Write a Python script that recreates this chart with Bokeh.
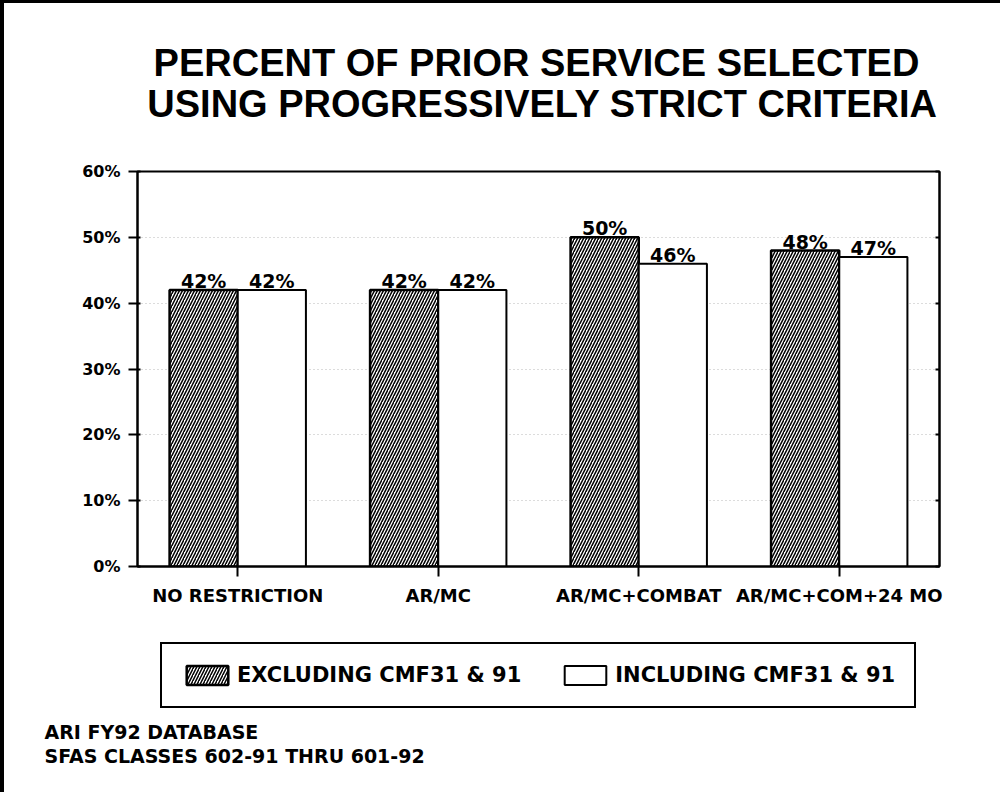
from bokeh.plotting import figure
from bokeh.layouts import column, row
from bokeh.models import (FactorRange, Range1d, Label, Legend, LegendItem, LinearAxis,
                          FixedTicker, PrintfTickFormatter, ColumnDataSource, Title)
from bokeh.transform import dodge
from bokeh.core.properties import value
from bokeh.embed import file_html
from bokeh.resources import INLINE

# ---- data ----
categories = ["NO RESTRICTION", "AR/MC", "AR/MC+COMBAT", "AR/MC+COM+24 MO"]
excluding = [42, 42, 50, 48]
including = [42, 42, 46, 47]
y_ticks = [0, 10, 20, 30, 40, 50, 60]
series_names = ["EXCLUDING CMF31 & 91", "INCLUDING CMF31 & 91"]
title_lines = ["PERCENT OF PRIOR SERVICE SELECTED", "USING PROGRESSIVELY STRICT CRITERIA"]
notes = ["ARI FY92 DATABASE", "SFAS CLASSES 602-91 THRU 601-92"]

src = ColumnDataSource(dict(
    cat=categories,
    exc=excluding,
    inc=including,
    exc_lbl=[f"{v}%" for v in excluding],
    inc_lbl=[f"{v}%" for v in including],
))

FONT = "DejaVu Sans"
W = 996
LINE_H, TOP_H, MAIN_H, BOT_H = 3, 153, 460, 150
BL, BR = 133, 61   # borders left/right shared by all stacked figures

exc_style = dict(fill_color="white", line_color="black", line_width=2.5,
                 hatch_pattern="/", hatch_color="black", hatch_scale=6, hatch_weight=1.5)
inc_style = dict(fill_color="white", line_color="black", line_width=2)


def blank(width, height, **kw):
    f = figure(width=width, height=height, output_backend="svg", toolbar_location=None,
               x_axis_type=None, y_axis_type=None, **kw)
    f.outline_line_color = None
    f.background_fill_color = "white"
    f.border_fill_color = "white"
    return f


# ---------- page frame lines (scan border) ----------
topline = blank(W, LINE_H, x_range=Range1d(0, 1), y_range=Range1d(0, 1),
                min_border_left=BL, min_border_right=BR, min_border_top=0, min_border_bottom=0,
                styles={"background-color": "black"})
topline.background_fill_color = "black"
topline.border_fill_color = "black"

strip = blank(4, 792, x_range=Range1d(0, 1), y_range=Range1d(0, 1), min_border=0,
              styles={"background-color": "black"})
strip.background_fill_color = "black"
strip.border_fill_color = "black"

# ---------- title ----------
top = blank(W, TOP_H, x_range=Range1d(137, 939), y_range=Range1d(156, 3),
            min_border_left=BL, min_border_right=BR, min_border_top=0, min_border_bottom=0)
for txt, x, y in ((title_lines[0], 536, 62), (title_lines[1], 542, 103)):
    top.add_layout(Label(x=x, y=y, text=txt, text_align="center", text_baseline="alphabetic",
                         text_font="Liberation Sans", text_font_style="bold",
                         text_font_size="38px", text_color="black"))

# ---------- main chart ----------
p = figure(width=W, height=MAIN_H,
           x_range=FactorRange(factors=categories, range_padding=0),
           y_range=Range1d(0, 60),
           output_backend="svg", toolbar_location=None,
           min_border_left=BL, min_border_right=BR,
           min_border_top=15, min_border_bottom=50)
p.background_fill_color = "white"
p.border_fill_color = "white"
p.outline_line_color = "black"
p.outline_line_width = 2

p.vbar(x=dodge("cat", -0.17, range=p.x_range), top="exc", width=0.34, bottom=0,
       source=src, **exc_style)
p.vbar(x=dodge("cat", 0.17, range=p.x_range), top="inc", width=0.34, bottom=0,
       source=src, **inc_style)

for col, lbl, off in (("exc", "exc_lbl", -0.17), ("inc", "inc_lbl", 0.17)):
    p.text(x=dodge("cat", off, range=p.x_range), y=col, text=lbl, source=src,
           text_align="center", text_baseline="alphabetic", y_offset=-9,
           text_font=value(FONT), text_font_style="bold", text_font_size="19px",
           text_color="black")

p.yaxis.ticker = FixedTicker(ticks=y_ticks)
p.yaxis.formatter = PrintfTickFormatter(format="%d%%")
p.yaxis.axis_line_width = 2
p.yaxis.major_tick_line_width = 2
p.yaxis.major_tick_out = 9
p.yaxis.major_tick_in = 3
p.yaxis.minor_tick_line_color = None
p.yaxis.major_label_standoff = 8
p.yaxis.major_label_text_font = FONT
p.yaxis.major_label_text_font_style = "bold"
p.yaxis.major_label_text_font_size = "16px"
p.yaxis.major_label_text_color = "black"

p.xaxis.axis_line_width = 2
p.xaxis.major_tick_line_width = 2
p.xaxis.major_tick_out = 10
p.xaxis.major_tick_in = 0
p.xaxis.major_label_standoff = 8
p.xaxis.major_label_text_font = FONT
p.xaxis.major_label_text_font_style = "bold"
p.xaxis.major_label_text_font_size = "18px"
p.xaxis.major_label_text_color = "black"

right = LinearAxis(ticker=FixedTicker(ticks=y_ticks), axis_line_width=2,
                   major_tick_in=4, major_tick_out=0, major_tick_line_width=2,
                   minor_tick_line_color=None, major_label_text_color=None,
                   major_label_text_font_size="1px")
p.add_layout(right, "right")

p.xgrid.grid_line_color = None
p.ygrid.ticker = FixedTicker(ticks=y_ticks)
p.ygrid.grid_line_color = "#9a9a9a"
p.ygrid.grid_line_dash = "1 3"
p.ygrid.grid_line_width = 1
p.ygrid.grid_line_alpha = 0.7

# ---------- bottom: legend and notes ----------
bot = blank(W, BOT_H, x_range=FactorRange(factors=categories), y_range=Range1d(0, 60),
            min_border_left=BL, min_border_right=BR, min_border_top=0, min_border_bottom=0)
k_exc = bot.vbar(x=dodge("cat", -0.17, range=bot.x_range), top="exc", width=0.34,
                 source=src, visible=False, **exc_style)
k_inc = bot.vbar(x=dodge("cat", 0.17, range=bot.x_range), top="inc", width=0.34,
                 source=src, visible=False, **inc_style)
legend = Legend(items=[LegendItem(label=series_names[0], renderers=[k_exc]),
                       LegendItem(label=series_names[1], renderers=[k_inc])],
                orientation="horizontal", location=(23, 10), click_policy="none",
                glyph_width=52, glyph_height=24, label_standoff=4,
                spacing=38, padding=19, margin=0,
                label_text_font=FONT, label_text_font_style="bold",
                label_text_font_size="21px", label_text_color="black",
                border_line_color="black", border_line_width=2, border_line_alpha=1,
                background_fill_color="white", background_fill_alpha=1)
bot.add_layout(legend, "center")
for txt in notes:
    bot.add_layout(Title(text=txt, align="left", offset=-93, standoff=0,
                         text_font=FONT, text_font_style="bold",
                         text_font_size="19px", text_color="black"), "below")

layout = row(strip, column(topline, top, p, bot, spacing=0), spacing=0)

open("out.html", "w").write(file_html(layout, INLINE))
